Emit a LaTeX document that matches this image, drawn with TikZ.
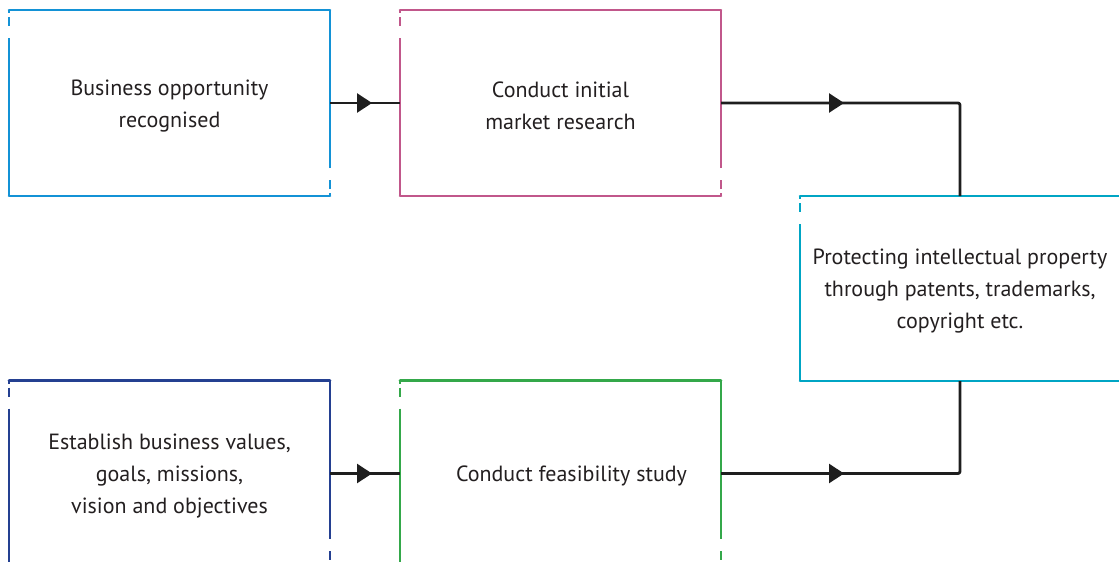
\documentclass[tikz,border=0pt]{standalone}
\usepackage{fontspec}
\setmainfont{PT Sans}
\usetikzlibrary{arrows.meta,decorations.markings,calc}

\definecolor{ink}{HTML}{1E1E1E}
\definecolor{textgray}{HTML}{231F20}
\definecolor{skyblue}{HTML}{1392D6}
\definecolor{rosepink}{HTML}{C1578B}
\definecolor{teal}{HTML}{00A5C4}
\definecolor{navy}{HTML}{244091}
\definecolor{leafgreen}{HTML}{34A84A}

% frame with a broken stroke at the top of the left side and the bottom of the right side
\newcommand\sketchframe[2]{%
  \draw[#2, frameLine, line cap=round] (#1.south west) -- (#1.south east);
  \draw[#2, frameLine, line cap=round] (#1.north east) -- (#1.north west);
  \draw[#2, frameLine, frameDash] (#1.north west) -- (#1.south west);
  \draw[#2, frameLine, frameDash] (#1.south east) -- (#1.north east);
}

\begin{document}
\begin{tikzpicture}[x=1pt,y=-1pt,
  stagebox/.style={minimum width=321pt, minimum height=186pt, inner sep=0pt, outer sep=0pt},
  boxlabel/.style={align=center, font=\fontsize{22}{32}\selectfont, text=textgray, inner sep=0pt},
  frameLine/.style={line width=2.6pt},
  frameDash/.style={dash pattern=on 3pt off 4pt on 9pt off 12pt on 2000pt},
  flow/.style={line width=2.8pt, draw=ink, line join=round},
  headat/.style={postaction={decorate}, decoration={markings,
    mark=at position #1 with {\arrow{Triangle[length=15pt,width=19pt]}}}},
]
\useasboundingbox (0,0) rectangle (1119,562);
\clip (0,0) rectangle (1119,562);

% stages
\node[stagebox] (b1) at (169.5,103) {};
\node[stagebox] (b2) at (560.5,103) {};
\node[stagebox, minimum width=320pt, minimum height=185pt] (b3) at (960,288.5) {};
\node[stagebox] (b4) at (169.5,473.5) {};
\node[stagebox] (b5) at (560.5,473.5) {};

% stage texts
\node[boxlabel] (b1text) at ($(b1.center)+(0,3)$) {Business opportunity\\recognised};
\node[boxlabel] (b2text) at ($(b2.center)+(0,3)$) {Conduct initial\\market research};
\node[boxlabel] (b3text) at ($(b3.center)+(0,3)$) {Protecting intellectual property\\through patents, trademarks,\\copyright etc.};
\node[boxlabel] (b4text) at ($(b4.center)+(0,3)$) {Establish business values,\\goals, missions,\\vision and objectives};
\node[boxlabel] (b5text) at ($(b5.center)+(11,2)$) {Conduct feasibility study};

\sketchframe{b1}{skyblue}
\sketchframe{b2}{rosepink}
\sketchframe{b3}{teal}
\sketchframe{b4}{navy}
\sketchframe{b5}{leafgreen}

% connectors
\draw[flow, headat=42pt] (b1.east) -- (b2.west);
\draw[flow, headat=123pt, rounded corners=2pt] (b2.east) -| (b3.north);
\draw[flow, headat=42pt] (b4.east) -- (b5.west);
\draw[flow, headat=123pt, rounded corners=2pt] (b5.east) -| (b3.south);
\end{tikzpicture}
\end{document}
